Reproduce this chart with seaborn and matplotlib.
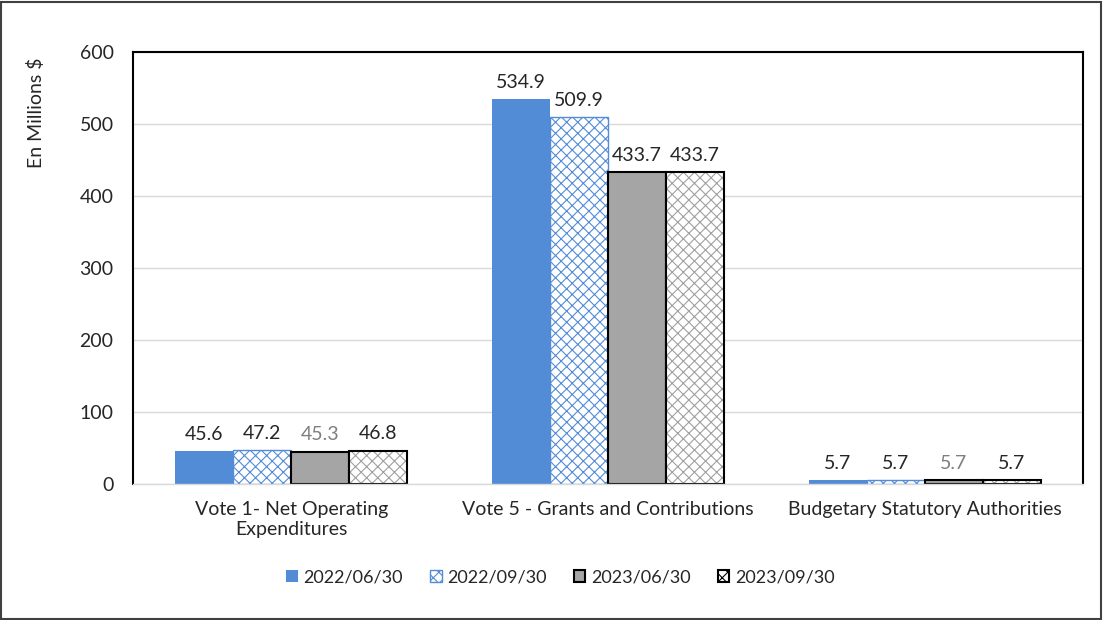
import pandas as pd
import matplotlib.pyplot as plt
import matplotlib.patches as mpatches
import seaborn as sns

# Dados
categorias = ['Vote 1- Net Operating\nExpenditures', 'Vote 5 - Grants and Contributions',
              'Budgetary Statutory Authorities']
periodos = ['2022/06/30', '2022/09/30', '2023/06/30', '2023/09/30']
v_2022_06 = [45.6, 534.9, 5.7]
v_2022_09 = [47.2, 509.9, 5.7]
v_2023_06 = [45.3, 433.7, 5.7]
v_2023_09 = [46.8, 433.7, 5.7]

valores = [v_2022_06, v_2022_09, v_2023_06, v_2023_09]
df = pd.DataFrame([
    {'categoria': c, 'periodo': p, 'valor': v}
    for p, serie in zip(periodos, valores)
    for c, v in zip(categorias, serie)
])

sns.set_style('white')
plt.rcParams['font.family'] = ['Lato', 'DejaVu Sans']
plt.rcParams['hatch.linewidth'] = 0.8

fig = plt.figure(figsize=(11.03, 6.2), dpi=100)
ax = fig.add_axes([0.1206, 0.219, 0.8614, 0.697])

azul = '#528bd6'
cinza = '#a5a5a5'
sns.barplot(data=df, x='categoria', y='valor', hue='periodo', order=categorias,
            hue_order=periodos, width=0.732, gap=0, ax=ax, legend=False,
            palette=[azul, 'white', cinza, 'white'], saturation=1)

estilos = [
    dict(edgecolor=azul, hatch=None, lw=0),
    dict(edgecolor=azul, hatch='xxx', lw=1.0),
    dict(edgecolor='black', hatch=None, lw=1.5),
    dict(edgecolor='#a0a0a0', hatch='xxx', lw=0),
]
cores_rotulo = [
    ['#262626'] * 3,
    ['#262626'] * 3,
    ['#7f7f7f', '#262626', '#7f7f7f'],
    ['#262626'] * 3,
]

for i, cont in enumerate(ax.containers):
    st = estilos[i]
    for j, barra in enumerate(cont):
        barra.set_edgecolor(st['edgecolor'])
        barra.set_linewidth(st['lw'])
        if st['hatch']:
            barra.set_hatch(st['hatch'])
        if i == 3:
            contorno = mpatches.Rectangle(barra.get_xy(), barra.get_width(), barra.get_height(),
                                          fill=False, edgecolor='black', lw=1.5, zorder=barra.get_zorder() + 0.1)
            ax.add_patch(contorno)
        ax.annotate(f'{valores[i][j]:.1f}',
                    (barra.get_x() + barra.get_width() / 2, barra.get_height()),
                    xytext=(0, 6), textcoords='offset points', ha='center', va='bottom',
                    fontsize=14, color=cores_rotulo[i][j])

ax.set_ylim(0, 600)
ax.set_yticks(range(0, 601, 100))
ax.set_xlim(-0.5, 2.5)
ax.yaxis.grid(True, color='#d9d9d9', lw=1)
ax.set_axisbelow(True)
for lado in ['left', 'top', 'right']:
    ax.spines[lado].set_color('black')
    ax.spines[lado].set_linewidth(1.5)
ax.spines['bottom'].set_color('#d9d9d9')
ax.spines['bottom'].set_linewidth(1)
ax.tick_params(axis='y', length=0, labelsize=14, colors='#262626', pad=14)
ax.tick_params(axis='x', length=0, labelsize=14, colors='#262626', pad=12)
ax.set_xlabel('')
ax.set_ylabel('En Millions $', fontsize=14, color='#262626')
ax.yaxis.set_label_coords(-0.093, 0.86)

handles = [
    mpatches.Patch(facecolor=azul, edgecolor=azul, lw=0),
    mpatches.Patch(facecolor='white', edgecolor=azul, hatch='xxx', lw=1),
    mpatches.Patch(facecolor=cinza, edgecolor='black', lw=1.5),
    mpatches.Patch(facecolor='white', edgecolor='black', hatch='xxx', lw=1.5),
]
fig.legend(handles, periodos, loc='center', bbox_to_anchor=(0.508, 0.069), ncol=4,
           frameon=False, fontsize=13, handlelength=0.65, handleheight=0.65,
           handletextpad=0.3, columnspacing=1.5)

fig.patches.append(mpatches.Rectangle((0.001, 0.002), 0.997, 0.995, transform=fig.transFigure,
                                      fill=False, edgecolor='#404040', lw=1.5))

fig.savefig('out.png', dpi=100)
